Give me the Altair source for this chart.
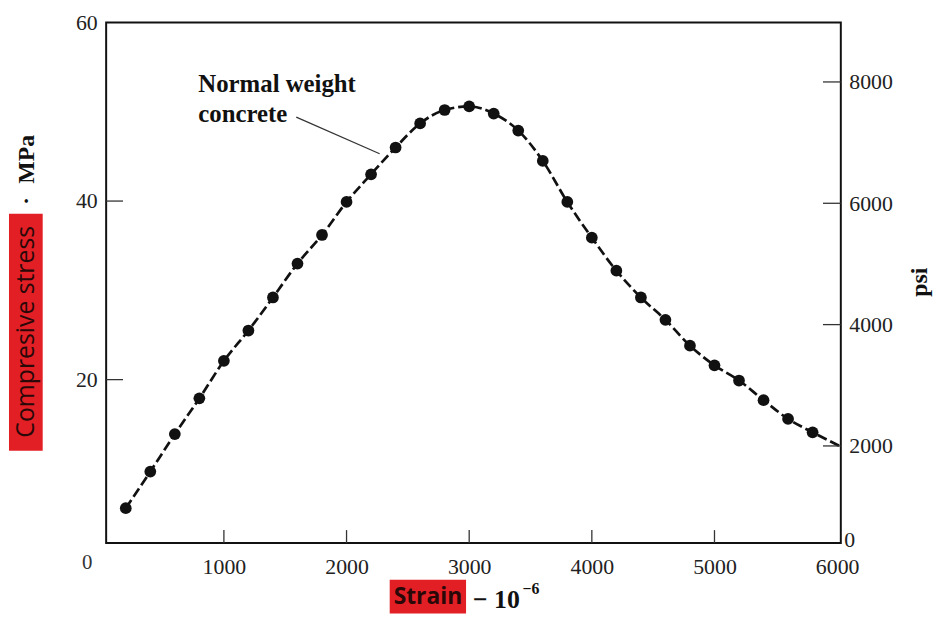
import altair as alt
import pandas as pd

# ---- data ----
strain = [200, 400, 600, 800, 1000, 1200, 1400, 1600, 1800, 2000,
          2200, 2400, 2600, 2800, 3000, 3200, 3400, 3600, 3800, 4000,
          4200, 4400, 4600, 4800, 5000, 5200, 5400, 5600, 5800]
stress_mpa = [5.6, 9.7, 13.9, 17.9, 22.1, 25.5, 29.2, 33.0, 36.2, 39.9,
              43.0, 46.0, 48.7, 50.2, 50.6, 49.8, 47.9, 44.5, 39.9, 35.9,
              32.2, 29.2, 26.7, 23.8, 21.6, 19.9, 17.7, 15.6, 14.1]
line_end_strain = [6030]
line_end_stress = [12.5]

x_tick_labels = [1000, 2000, 3000, 4000, 5000, 6000]
x_tick_marks = [1000, 2000, 3000, 4000, 5000]
y_tick_labels = [20, 40, 60]
y_tick_marks = [20, 40]
psi_ticks = [2000, 4000, 6000, 8000]

leader_strain = [1590, 2270]
leader_stress = [49.4, 45.3]

X_DOMAIN = [40, 6030]
Y_DOMAIN = [1.7, 60]
PSI_DOMAIN = [400, 8980]

W, H = 741, 525
SERIF = "Liberation Serif"
SANS = "Open Sans"
INK = "#111111"
RED = "#e31f26"

df_pts = pd.DataFrame({"strain": strain, "stress": stress_mpa})
df_line = pd.DataFrame({"strain": strain + line_end_strain,
                        "stress": stress_mpa + line_end_stress})
df_leader = pd.DataFrame({"strain": leader_strain, "stress": leader_stress})
df_xt = pd.DataFrame({"strain": x_tick_marks})
df_yt = pd.DataFrame({"stress": y_tick_marks})
df_psi = pd.DataFrame({"psi": psi_ticks})
one = pd.DataFrame({"k": [0]})

xs = alt.Scale(domain=X_DOMAIN, nice=False, zero=False)
ys = alt.Scale(domain=Y_DOMAIN, nice=False, zero=False)

x_axis = alt.Axis(values=x_tick_labels, format="d", ticks=False, domain=False,
                  grid=False, labelPadding=14, labelFontSize=22, labelFont=SERIF,
                  labelColor="#222", labelFlush=False, title=None)
y_axis = alt.Axis(values=y_tick_labels, format="d", ticks=False, domain=False,
                  grid=False, labelPadding=9, labelFontSize=22, labelFont=SERIF,
                  labelColor="#222", title=None, orient="left")
psi_axis = alt.Axis(values=psi_ticks, format="d", ticks=False, domain=False,
                    grid=False, labelPadding=8, labelFontSize=22, labelFont=SERIF,
                    labelColor="#222", title=None, orient="right")


def X():
    return alt.X("strain:Q", scale=xs, axis=x_axis)


line = alt.Chart(df_line).mark_line(
    color=INK, strokeWidth=2.7, strokeDash=[10, 4], interpolate="monotone"
).encode(x=X(), y=alt.Y("stress:Q", scale=ys, axis=y_axis))

points = alt.Chart(df_pts).mark_circle(color=INK, size=140, opacity=1).encode(
    x=X(), y=alt.Y("stress:Q", scale=ys, axis=None))

leader = alt.Chart(df_leader).mark_line(color="#333", strokeWidth=1.2).encode(
    x=X(), y=alt.Y("stress:Q", scale=ys, axis=None))

xticks = alt.Chart(df_xt).mark_rule(color="#333", strokeWidth=1.3).encode(
    x=X(), y=alt.value(H), y2=alt.value(H - 13))

yticks = alt.Chart(df_yt).mark_rule(color="#333", strokeWidth=1.3).encode(
    y=alt.Y("stress:Q", scale=ys, axis=None),
    x=alt.value(0), x2=alt.value(17))

psiticks = alt.Chart(df_psi).mark_rule(color="#333", strokeWidth=1.3).encode(
    y=alt.Y("psi:Q", scale=alt.Scale(domain=PSI_DOMAIN, nice=False, zero=False),
            axis=psi_axis),
    x=alt.value(W - 18), x2=alt.value(W))


def txt(text, x, y, **kw):
    return alt.Chart(one).mark_text(text=text, **kw).encode(
        x=alt.value(x), y=alt.value(y))


def box(x, x2, y, y2):
    return alt.Chart(one).mark_rect(color=RED).encode(
        x=alt.value(x), x2=alt.value(x2), y=alt.value(y), y2=alt.value(y2))


annot = txt("Normal weight\nconcrete", 93, 70, lineBreak="\n", lineHeight=30,
            align="left", baseline="alphabetic", font=SERIF, fontSize=25,
            fontWeight="bold", color=INK)

zero_left = txt("0", -19, 545, font=SERIF, fontSize=21, color="#333")
zero_right = txt("0", 750, 522, font=SERIF, fontSize=22, color="#222")

left_box = box(-98, -64, 193, 432)
left_title = txt("Compresive stress", -81, 312, angle=270, font=SANS,
                 fontSize=25, color="#2a0808", baseline="middle")
mpa = txt("MPa", -80, 138, angle=270, font=SERIF, fontSize=24,
          fontWeight="bold", color=INK, baseline="middle")
dot = txt("·", -81, 180, angle=270, font=SERIF, fontSize=22,
          fontWeight="bold", color=INK, baseline="middle")

bottom_box = box(286, 363, 562, 596)
strain_title = txt("Strain", 324.5, 580, font=SANS, fontSize=23,
                   fontWeight="bold", color="#2a0808", baseline="middle")
ten = txt("\u2212 10", 370, 583, align="left", baseline="middle", font=SERIF,
          fontSize=26, fontWeight="bold", color=INK)
sup = txt("\u22126", 420, 571, align="left", baseline="middle", font=SERIF,
          fontSize=16, fontWeight="bold", color=INK)

psi_title = txt("psi", 821, 262, angle=270, font=SERIF, fontSize=24,
                fontWeight="bold", color=INK, baseline="middle")

chart = alt.layer(
    line, points, leader, xticks, yticks, psiticks, annot,
    zero_left, zero_right, left_box, left_title, mpa, dot,
    bottom_box, strain_title, ten, sup, psi_title
).resolve_scale(y="independent").properties(
    width=W, height=H,
    autosize=alt.AutoSizeParams(type="none"),
    padding={"left": 99, "top": 12, "right": 95, "bottom": 71},
).configure_view(stroke=INK, strokeWidth=2)

chart.save("out.html", embed_options={"renderer": "svg", "actions": False})
